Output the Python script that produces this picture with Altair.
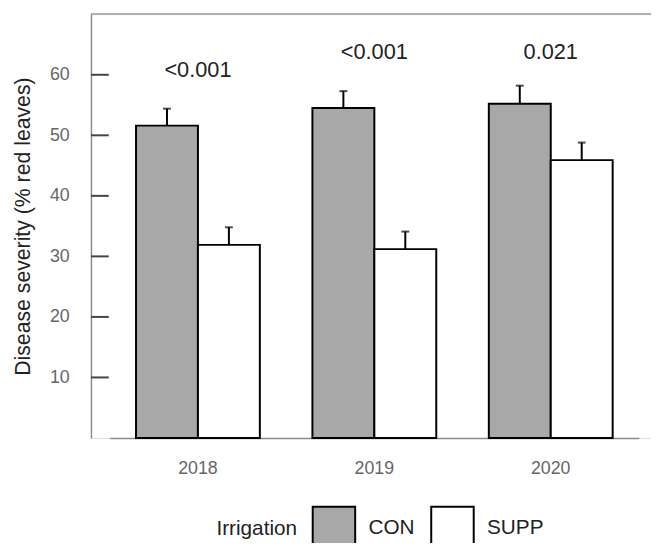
import altair as alt
import pandas as pd

years = ["2018", "2019", "2020"]
groups = ["CON", "SUPP"]
con_mean = [51.6, 54.5, 55.2]
con_err = [54.4, 57.3, 58.2]
supp_mean = [31.9, 31.2, 45.9]
supp_err = [34.8, 34.1, 48.8]
p_labels = ["<0.001", "<0.001", "0.021"]
p_y = [60.8, 63.8, 63.8]
y_ticks = [10, 20, 30, 40, 50, 60]
fills = ["#a8a8a8", "#ffffff"]

rows = []
for i, yr in enumerate(years):
    rows.append({"year": yr, "irr": "CON", "mean": con_mean[i], "err": con_err[i]})
    rows.append({"year": yr, "irr": "SUPP", "mean": supp_mean[i], "err": supp_err[i]})
df = pd.DataFrame(rows)
df_p = pd.DataFrame({"year": years, "label": p_labels, "y": p_y})
df_t = pd.DataFrame({"t": y_ticks})

W, H = 567, 429
FONT = "Liberation Sans"

xscale = alt.Scale(domain=years, range=[19, 554.8], paddingInner=0.298, paddingOuter=0.149)
yscale = alt.Scale(domain=[0, 70], nice=False, zero=True)

xenc = alt.X("year:N", scale=xscale, title=None,
             axis=alt.Axis(labelAngle=0, ticks=False, tickSize=0, labelPadding=22,
                           labelFontSize=18, labelColor="#666666", domainColor="#8c8c8c",
                           domainWidth=1.5, labelFont=FONT))
yenc = alt.Y("mean:Q", scale=yscale, title="Disease severity (% red leaves)",
             axis=alt.Axis(values=y_ticks, ticks=False, tickSize=0, labelPadding=22, grid=False,
                           labelFontSize=18, labelColor="#666666", domainColor="#8c8c8c",
                           domainWidth=1.5, titleFontSize=21.5, titleColor="#222222",
                           titleFontWeight="normal", titlePadding=15, labelFont=FONT, titleFont=FONT))
xoff = alt.XOffset("irr:N", scale=alt.Scale(domain=groups, paddingInner=0, paddingOuter=0))

bars = alt.Chart(df).mark_bar(stroke="black", strokeWidth=2, fillOpacity=1).encode(
    x=xenc, xOffset=xoff, y=yenc,
    fill=alt.Fill("irr:N", scale=alt.Scale(domain=groups, range=fills),
                  legend=alt.Legend(title="Irrigation", orient="none", legendX=127, legendY=497,
                                    direction="horizontal", titleOrient="left",
                                    symbolType="square", symbolSize=1850,
                                    symbolStrokeColor="black", symbolStrokeWidth=2,
                                    symbolOpacity=1, labelOffset=12, columnPadding=12,
                                    titlePadding=14, titleFontSize=21, labelFontSize=21,
                                    titleFontWeight="normal", titleColor="#222222",
                                    labelColor="#222222", titleFont=FONT, labelFont=FONT)),
)

err_rule = alt.Chart(df).mark_rule(color="black", strokeWidth=2).encode(
    x=alt.X("year:N", scale=xscale), xOffset=xoff,
    y=alt.Y("mean:Q", scale=yscale), y2="err:Q",
)
err_cap = alt.Chart(df).mark_tick(color="black", thickness=2, size=8).encode(
    x=alt.X("year:N", scale=xscale), xOffset=xoff,
    y=alt.Y("err:Q", scale=yscale),
)
ptext = alt.Chart(df_p).mark_text(fontSize=22, color="#222222", font=FONT, baseline="middle").encode(
    x=alt.X("year:N", scale=xscale), y=alt.Y("y:Q", scale=yscale), text="label:N",
)
ticks = alt.Chart(df_t).mark_rule(color="#444444", strokeWidth=2).encode(
    y=alt.Y("t:Q", scale=yscale), x=alt.value(0), x2=alt.value(18),
)
top_line = alt.Chart(df_t).mark_rule(color="#b0b0b0", strokeWidth=1.5).encode(
    y=alt.value(0), x=alt.value(0), x2=alt.value(W),
)

chart = alt.layer(bars, err_rule, err_cap, ptext, ticks, top_line).properties(
    width=W, height=H,
    autosize=alt.AutoSizeParams(type="none"),
    padding={"left": 84, "top": 3, "right": 0, "bottom": 103},
).configure_view(stroke=None).configure(font=FONT)

chart.save("out.html", embed_options={"renderer": "svg", "actions": False})
